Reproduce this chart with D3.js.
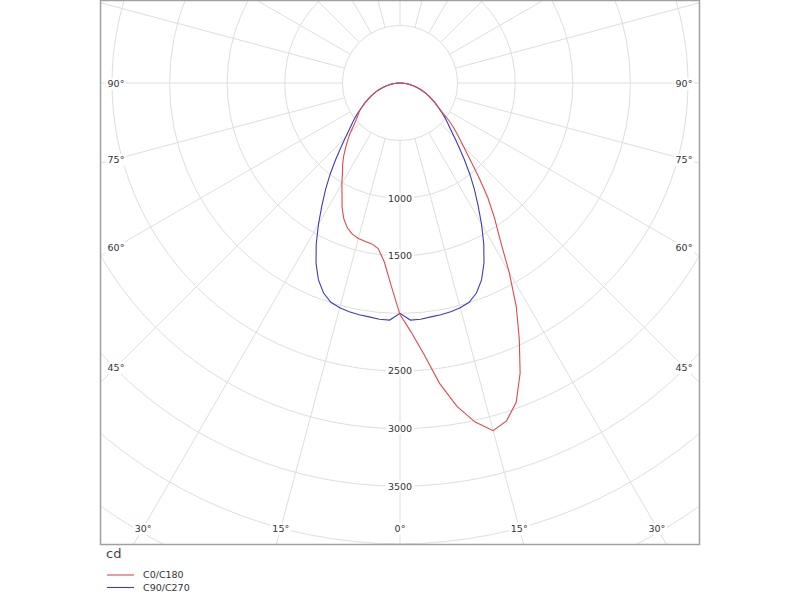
<!DOCTYPE html>
<html>
<head>
<meta charset="utf-8">
<script src="https://cdn.jsdelivr.net/npm/d3@7"></script>
<style>
  html, body { margin: 0; padding: 0; background: #fff; }
  svg { display: block; }
  text { font-family: "DejaVu Sans", Verdana, sans-serif; }
</style>
</head>
<body>
<svg id="chart" width="800" height="600"></svg>
<script>
// ---- data ----
const gammaAngles = [0, 2.5, 5, 7.5, 10, 12.5, 15, 17.5, 20, 22.5, 25, 27.5, 30, 32.5, 35, 37.5, 40, 42.5, 45, 47.5, 50, 52.5, 55, 57.5, 60, 62.5, 65, 67.5, 70, 72.5, 75, 77.5, 80, 82.5, 85, 87.5, 90];
const c0Values   = [2010, 2160, 2360, 2630, 2850, 3015, 3125, 3075, 2950, 2725, 2450, 2185, 1895, 1620, 1430, 1250, 1060, 900, 780, 690, 612, 535, 452, 400, 355, 318, 283, 248, 215, 183, 152, 122, 95, 70, 46, 23, 0];
const c180Values = [2010, 1760, 1560, 1450, 1418, 1408, 1398, 1375, 1338, 1275, 1190, 1090, 1010, 930, 868, 805, 735, 670, 610, 545, 495, 460, 432, 395, 355, 318, 285, 252, 220, 188, 158, 128, 100, 74, 48, 24, 0];
const c90Values  = [2000, 2060, 2058, 2048, 2042, 2034, 2020, 1996, 1940, 1850, 1725, 1575, 1415, 1262, 1125, 995, 870, 760, 670, 595, 540, 490, 440, 395, 355, 318, 285, 252, 220, 188, 158, 128, 100, 74, 48, 24, 0];
const c270Values = [2000, 2060, 2058, 2048, 2042, 2034, 2020, 1996, 1940, 1850, 1725, 1575, 1415, 1262, 1125, 995, 870, 760, 670, 595, 540, 490, 440, 395, 355, 318, 285, 252, 220, 188, 158, 128, 100, 74, 48, 24, 0];
const seriesNames = ["C0/C180", "C90/C270"];
const radialTicks = [500, 1000, 1500, 2000, 2500, 3000, 3500, 4000, 4500, 5000];
const radialTickLabels = [1000, 1500, 2500, 3000, 3500];
const angleLabels = [0, 15, 30, 45, 60, 75, 90];
const unitLabel = "cd";

// ---- layout ----
const svg = d3.select("#chart");
const plot = { x0: 100, y0: 0, x1: 700, y1: 545 };
const cx = 400, cy = 83;
const r = d3.scaleLinear().domain([0, 500]).range([0, 57.6]);
const deg = Math.PI / 180;
const gridColor = "#dedede";
const textColor = "#333";
const redColor = "#df4a4a";
const blueColor = "#3c3cc4";

svg.append("defs").append("clipPath").attr("id", "clip")
  .append("rect").attr("x", plot.x0).attr("y", plot.y0)
  .attr("width", plot.x1 - plot.x0).attr("height", plot.y1 - plot.y0);

const g = svg.append("g").attr("clip-path", "url(#clip)");
const polar = g.append("g").attr("transform", `translate(${cx},${cy})`);

// circles
polar.selectAll("circle.grid").data(radialTicks).join("circle")
  .attr("class", "grid").attr("r", d => r(d))
  .attr("fill", "none").attr("stroke", gridColor).attr("stroke-width", 1);

// radial lines every 15 deg, from the first circle outward
const spokes = d3.range(0, 360, 15);
polar.selectAll("line.spoke").data(spokes).join("line")
  .attr("class", "spoke")
  .attr("x1", d => r(500) * Math.sin(d * deg))
  .attr("y1", d => r(500) * Math.cos(d * deg))
  .attr("x2", d => r(6000) * Math.sin(d * deg))
  .attr("y2", d => r(6000) * Math.cos(d * deg))
  .attr("stroke", gridColor).attr("stroke-width", 1);

// curves
function curvePoints(leftVals, rightVals) {
  const pts = [];
  for (let i = gammaAngles.length - 1; i >= 0; i--) pts.push([Math.PI + gammaAngles[i] * deg, r(leftVals[i])]);
  for (let i = 1; i < gammaAngles.length; i++) pts.push([Math.PI - gammaAngles[i] * deg, r(rightVals[i])]);
  return pts;
}
const radial = d3.lineRadial().angle(d => d[0]).radius(d => d[1]);

polar.append("path").attr("d", radial(curvePoints(c270Values, c90Values)))
  .attr("fill", "none").attr("stroke", blueColor).attr("stroke-width", 1.1);
polar.append("path").attr("d", radial(curvePoints(c180Values, c0Values)))
  .attr("fill", "none").attr("stroke", redColor).attr("stroke-width", 1.1);

// radial value labels along the 0-degree line
const valLabels = polar.selectAll("g.vlab").data(radialTickLabels).join("g")
  .attr("class", "vlab").attr("transform", d => `translate(0,${r(d)})`);
valLabels.append("rect").attr("x", -14).attr("y", -6).attr("width", 28).attr("height", 12).attr("fill", "#fff");
valLabels.append("text").attr("text-anchor", "middle").attr("dy", "0.35em")
  .attr("font-size", 9.5).attr("fill", textColor).text(d => d);

// angle labels placed on an inset rectangle
const inset = { x0: 116, x1: 684, y1: 528 };
const angleData = [];
angleLabels.forEach(a => {
  const sides = a === 0 ? [1] : [-1, 1];
  sides.forEach(s => {
    const sx = Math.sin(a * deg), sy = Math.cos(a * deg);
    const tx = sx > 1e-9 ? (inset.x1 - cx) / sx : Infinity;
    const ty = sy > 1e-9 ? (inset.y1 - cy) / sy : Infinity;
    const t = Math.min(tx, ty);
    angleData.push({ a, x: cx + s * t * sx, y: cy + t * sy });
  });
});
const aLab = svg.selectAll("g.alab").data(angleData).join("g")
  .attr("class", "alab").attr("transform", d => `translate(${d.x},${d.y + 1})`);
aLab.append("rect").attr("x", -10).attr("y", -6).attr("width", 20).attr("height", 12).attr("fill", "#fff");
aLab.append("text").attr("text-anchor", "middle").attr("dy", "0.35em")
  .attr("font-size", 9.5).attr("fill", textColor).text(d => d.a + "°");

// frame
svg.append("rect").attr("x", plot.x0 + 0.5).attr("y", plot.y0 + 0.5)
  .attr("width", plot.x1 - plot.x0 - 1).attr("height", plot.y1 - plot.y0 - 1)
  .attr("fill", "none").attr("stroke", "#a0a0a0").attr("stroke-width", 1.5);

// unit + legend
svg.append("text").attr("x", 106).attr("y", 558).attr("font-size", 13).attr("fill", "#444").text(unitLabel);
const legColors = [redColor, blueColor];
const leg = svg.selectAll("g.leg").data(seriesNames).join("g")
  .attr("class", "leg").attr("transform", (d, i) => `translate(107,${575 + i * 12.5})`);
leg.append("line").attr("x1", 0).attr("x2", 27).attr("y1", 0).attr("y2", 0)
  .attr("stroke", (d, i) => legColors[i]).attr("stroke-width", 1.1);
leg.append("text").attr("x", 36).attr("dy", "0.35em").attr("font-size", 9.5).attr("fill", textColor).text(d => d);
</script>
</body>
</html>
